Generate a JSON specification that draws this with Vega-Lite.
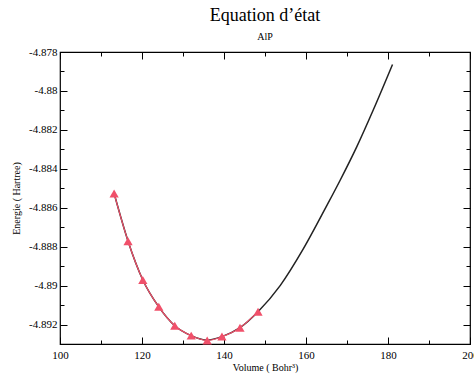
{
  "$schema": "https://vega.github.io/schema/vega-lite/v6.json",
  "autosize": "none",
  "padding": {"left": 60, "top": 52, "right": 4, "bottom": 30},
  "width": 410,
  "height": 292,
  "title": {
    "text": "Equation d’état",
    "subtitle": "AlP",
    "font": "Liberation Serif",
    "fontSize": 18,
    "fontWeight": "normal",
    "subtitleFont": "Liberation Serif",
    "subtitleFontSize": 10,
    "subtitleColor": "black",
    "color": "black",
    "anchor": "middle",
    "offset": 4,
    "subtitlePadding": 7
  },
  "config": {
    "view": {"stroke": "#000000", "strokeWidth": 1.2},
    "axis": {
      "grid": false,
      "domain": false,
      "labelFlush": false,
      "labelFont": "Liberation Serif",
      "titleFont": "Liberation Serif",
      "labelFontSize": 11,
      "titleFontSize": 10,
      "titleFontWeight": "normal",
      "tickColor": "black",
      "labelColor": "black",
      "titleColor": "black"
    }
  },
  "datasets": {
    "fit": [
      {"v": 113.2, "e": -4.88527},
      {"v": 116.6, "e": -4.88772},
      {"v": 120.2, "e": -4.88971},
      {"v": 124.1, "e": -4.89109},
      {"v": 128.0, "e": -4.89206},
      {"v": 132.0, "e": -4.89257},
      {"v": 135.9, "e": -4.89280},
      {"v": 139.5, "e": -4.89262},
      {"v": 143.9, "e": -4.89216},
      {"v": 148.3, "e": -4.89134},
      {"v": 153.7, "e": -4.89000},
      {"v": 159.3, "e": -4.88813},
      {"v": 165.0, "e": -4.88592},
      {"v": 168.3, "e": -4.88460},
      {"v": 172.4, "e": -4.88286},
      {"v": 176.4, "e": -4.88098},
      {"v": 181.1, "e": -4.87864}
    ],
    "pts": [
      {"v": 113.2, "e": -4.88527},
      {"v": 116.6, "e": -4.88772},
      {"v": 120.2, "e": -4.88971},
      {"v": 124.1, "e": -4.89109},
      {"v": 128.0, "e": -4.89206},
      {"v": 132.0, "e": -4.89257},
      {"v": 135.9, "e": -4.89282},
      {"v": 139.5, "e": -4.89262},
      {"v": 143.9, "e": -4.89216},
      {"v": 148.3, "e": -4.89134}
    ]
  },
  "layer": [
    {
      "data": {"name": "fit"},
      "mark": {"type": "line", "color": "#222222", "strokeWidth": 1.5, "interpolate": "monotone"},
      "encoding": {
        "x": {"field": "v", "type": "quantitative", "scale": {"domain": [100, 200], "nice": false, "zero": false},
          "axis": {"orient": "bottom", "title": "Volume ( Bohr³)", "values": [100, 120, 140, 160, 180, 200], "offset": -7, "tickSize": 7, "labelPadding": 5, "titlePadding": 2, "labelExpr": "'' + datum.value"}},
        "y": {"field": "e", "type": "quantitative", "scale": {"domain": [-4.893, -4.878], "nice": false, "zero": false},
          "axis": {"orient": "left", "title": "Energie ( Hartree)", "values": [-4.892, -4.89, -4.888, -4.886, -4.884, -4.882, -4.88, -4.878], "offset": -7, "tickSize": 7, "labelPadding": 3, "titlePadding": 7, "labelExpr": "'' + datum.value"}}
      }
    },
    {
      "data": {"name": "pts"},
      "mark": {"type": "line", "color": "#f0506a", "strokeWidth": 1.2, "interpolate": "monotone"},
      "encoding": {
        "x": {"field": "v", "type": "quantitative",
          "axis": {"orient": "top", "title": null, "labels": false, "values": [100, 120, 140, 160, 180, 200], "offset": -7, "tickSize": 7}},
        "y": {"field": "e", "type": "quantitative",
          "axis": {"orient": "right", "title": null, "labels": false, "values": [-4.892, -4.89, -4.888, -4.886, -4.884, -4.882, -4.88, -4.878], "offset": -7, "tickSize": 7}}
      }
    },
    {
      "data": {"name": "pts"},
      "mark": {"type": "point", "shape": "triangle-up", "filled": true, "size": 85, "color": "#f0506a", "opacity": 1},
      "encoding": {
        "x": {"field": "v", "type": "quantitative",
          "axis": {"orient": "bottom", "title": null, "labels": false, "values": [110, 130, 150, 170, 190], "offset": -4, "tickSize": 4}},
        "y": {"field": "e", "type": "quantitative",
          "axis": {"orient": "left", "title": null, "labels": false, "values": [-4.893, -4.891, -4.889, -4.887, -4.885, -4.883, -4.881, -4.879], "offset": -4, "tickSize": 4}}
      }
    },
    {
      "data": {"name": "pts"},
      "mark": {"type": "point", "opacity": 0},
      "encoding": {
        "x": {"field": "v", "type": "quantitative",
          "axis": {"orient": "top", "title": null, "labels": false, "values": [110, 130, 150, 170, 190], "offset": -4, "tickSize": 4}},
        "y": {"field": "e", "type": "quantitative",
          "axis": {"orient": "right", "title": null, "labels": false, "values": [-4.893, -4.891, -4.889, -4.887, -4.885, -4.883, -4.881, -4.879], "offset": -4, "tickSize": 4}}
      }
    }
  ],
  "resolve": {"axis": {"x": "independent", "y": "independent"}}
}
